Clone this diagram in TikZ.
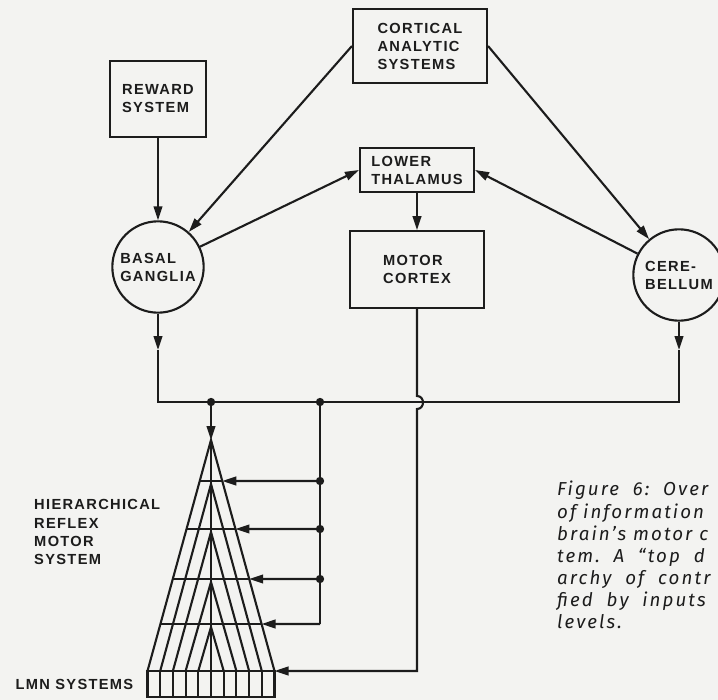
\documentclass[tikz,border=0pt]{standalone}
\usepackage{fontspec}
\setmainfont{Liberation Sans}
\newfontfamily\letterfont[LetterSpace=9]{Liberation Sans Bold}
\newfontfamily\captfont[LetterSpace=11]{Fira Sans}
\usetikzlibrary{arrows.meta, positioning, calc}
\definecolor{paper}{RGB}{243,243,241}
\definecolor{ink}{RGB}{28,28,28}
\tikzset{
    sysbox/.style={rectangle, draw=ink, line width=1.8pt, align=left, inner sep=0pt,
                   text=ink, font=\letterfont\fontsize{12.5}{15.4}\selectfont},
    nucleus/.style={circle, draw=ink, line width=1.8pt, align=left, inner sep=0pt,
                    minimum size=2.74cm, text=ink, font=\letterfont\fontsize{12.5}{15.4}\selectfont},
    lmnbox/.style={rectangle, draw=ink, line width=1.8pt, inner sep=0pt, outer sep=0pt,
                   minimum width=3.81cm, minimum height=0.78cm},
    arrow/.style={-{Triangle[length=4.2mm, width=2.6mm]}, line width=1.8pt, draw=ink},
    wire/.style={line width=1.8pt, draw=ink},
    tap/.style={circle, fill=ink, inner sep=0pt, minimum size=2.5mm},
    sidelbl/.style={align=left, inner sep=0pt, text=ink,
                    font=\letterfont\fontsize{12.5}{15.4}\selectfont},
    captlbl/.style={align=left, inner sep=0pt, text=ink,
                    font=\captfont\itshape\fontsize{16}{18.9}\selectfont},
}

\begin{document}
\begin{tikzpicture}[x=0.03cm, y=-0.03cm]
    \fill[paper] (0,0) rectangle (718,700);
    \useasboundingbox (0,0) rectangle (718,700);

    \node[sysbox, minimum width=4.02cm, minimum height=2.22cm] (cortical) at (420,46) {CORTICAL\\ANALYTIC\\SYSTEMS};
    \node[sysbox, minimum width=2.88cm, minimum height=2.28cm] (reward) at (158,99) {REWARD\\SYSTEM};
    \node[sysbox, minimum width=3.42cm, minimum height=1.32cm] (thalamus) at (417,170) {LOWER\\THALAMUS};
    \node[sysbox, minimum width=4.02cm, minimum height=2.31cm, below=1.11cm of thalamus] (motor) {MOTOR\\CORTEX};
    \node[nucleus] (basal) at (158,267) {BASAL\\GANGLIA};
    \node[nucleus] (cerebellum) at (679,275) {CERE-\\BELLUM};

    \draw[arrow] (reward) -- (basal);
    \draw[arrow] (cortical.west) -- (basal);
    \draw[arrow] (cortical.east) -- (cerebellum);
    \draw[arrow] (basal) -- (thalamus.west);
    \draw[arrow] (cerebellum) -- (thalamus.east);
    \draw[arrow] (thalamus) -- (motor);

    % common output bus
    \coordinate (bgmid) at (158,350);
    \coordinate (cbmid) at (679,350);
    \coordinate (busL) at (158,402);
    \coordinate (busR) at (679,402);
    \coordinate (tapA) at (211,402);
    \coordinate (tapB) at (320,402);
    \draw[arrow] (basal) -- (bgmid);
    \draw[arrow] (cerebellum) -- (cbmid);
    \draw[wire] (bgmid) -- (busL) -- (busR) -- (cbmid);

    % reflex pyramid
    \node[lmnbox] (lmn) at (211,684) {};
    \coordinate (apex) at (211,440);
    \draw[arrow] (tapA) -- (apex);
    \draw[wire] (lmn.north west) -- (apex) -- (lmn.north east);
    \draw[wire] (apex) -- (lmn.south);
    \foreach \i in {1,...,9}
        \draw[wire] ($(lmn.north west)!\i/10!(lmn.north east)$) -- ($(lmn.south west)!\i/10!(lmn.south east)$);
    \foreach \k/\r in {1/481,2/529,3/579,4/624} {
        \pgfmathsetmacro\t{(\r-440)/231}
        \coordinate (sub\k) at (211,\r+3);
        \coordinate (rungL\k) at ($(apex)!\t!(lmn.north west)$);
        \coordinate (rungR\k) at ($(apex)!\t!(lmn.north east)$);
        \coordinate (fb\k) at (320,\r);
        \draw[wire] ($(lmn.north west)!\k/10!(lmn.north east)$) -- (sub\k) -- ($(lmn.north east)!\k/10!(lmn.north west)$);
        \draw[wire] (rungL\k) -- (rungR\k);
        \draw[arrow] (fb\k) -- (rungR\k);
    }
    \draw[wire] (tapB) -- (fb4);
    \foreach \p in {tapA,tapB,fb1,fb2,fb3}
        \node[tap] at (\p) {};

    % motor cortex drop, hopping over the bus
    \coordinate (hopA) at (417,396);
    \coordinate (hopB) at (417,409);
    \coordinate (mcorner) at (417,671);
    \draw[arrow] (motor) -- (hopA) .. controls +(8,0) and +(8,0) .. (hopB) -- (mcorner) -- (lmn.north east);

    \node[sidelbl, anchor=west] (hrms) at (34,532) {HIERARCHICAL\\REFLEX\\MOTOR\\SYSTEM};
    \node[sidelbl, left=0.42cm of lmn] (lmnlbl) {LMN SYSTEMS};

    \node[captlbl, anchor=north west] (caption) at (557,481) {Figure\ \ 6:\ \ Over\\of information\\brain’s\ motor\ c\\tem.\ \ A\ \ “top\ \ d\\archy\ \ of\ \ contr\\fied\ \ by\ \ inputs\\levels.};
\end{tikzpicture}
\end{document}
